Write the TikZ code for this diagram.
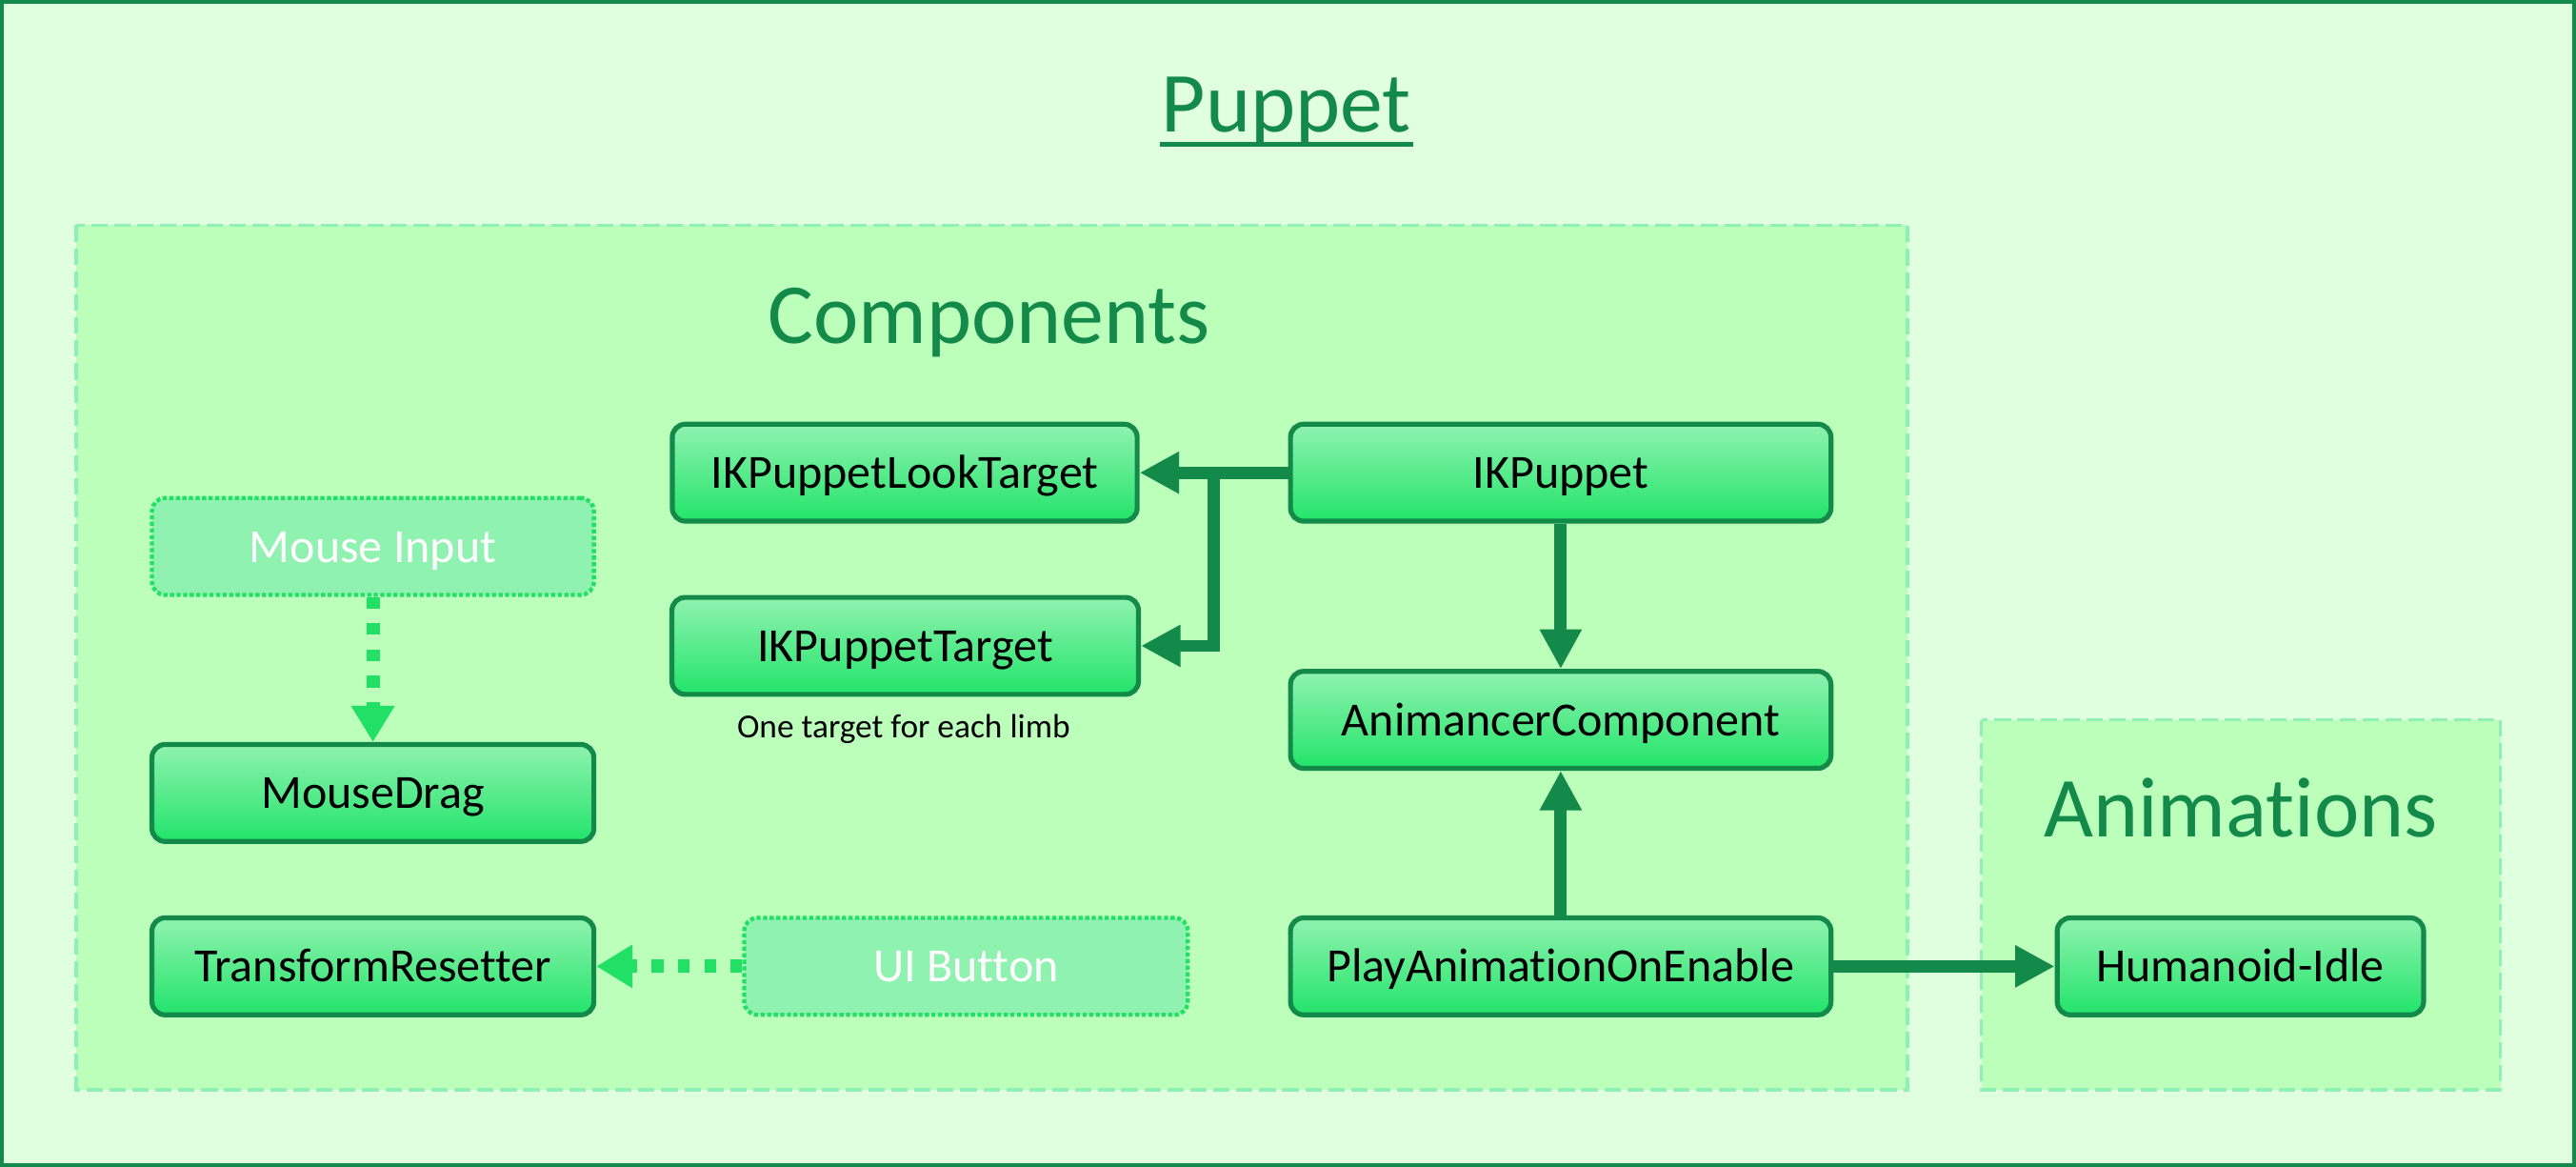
\documentclass[tikz,border=0pt]{standalone}
\usepackage{fontspec}
\setmainfont{Carlito}[Ligatures=NoCommon]
\usetikzlibrary{arrows.meta}
\definecolor{dkg}{HTML}{13894A}
\definecolor{outerbg}{HTML}{E0FFDE}
\definecolor{innerbg}{HTML}{BBFFBB}
\definecolor{dashc}{HTML}{8EF0B4}
\definecolor{nodetop}{HTML}{90F2B0}
\definecolor{nodebot}{HTML}{22E46A}
\definecolor{inputfill}{HTML}{90F2B0}
\definecolor{ltg}{HTML}{22E066}
\begin{document}
\begin{tikzpicture}[x=1pt,y=-1pt,
  comp/.style={draw=dkg, line width=3pt, rounded corners=8pt, top color=nodetop, bottom color=nodebot,
    inner sep=0pt, font=\fontsize{29}{34}\selectfont, text=black, minimum height=59pt,
    text height=19pt, text depth=0pt},
  inputbox/.style={draw=ltg, line width=2.5pt, dash pattern=on 2.5pt off 1.5pt, rounded corners=8pt,
    fill=inputfill, inner sep=0pt, font=\fontsize{29}{34}\selectfont, text=white, minimum height=59pt,
    text height=19pt, text depth=0pt},
  group/.style={draw=dashc, line width=2pt, dash pattern=on 10pt off 4pt, fill=innerbg},
  grouptitle/.style={font=\fontsize{52}{60}\selectfont, text=dkg, inner sep=0pt, anchor=base},
  arr/.style={draw=dkg, line width=7.5pt, -{Triangle[length=24pt,width=24pt]}},
  darr/.style={draw=ltg, line width=8pt, dash pattern=on 7pt off 9pt, -{Triangle[length=22pt,width=25pt]}}
]
\useasboundingbox (0,0) rectangle (1568,710);
\draw[fill=outerbg, draw=dkg, line width=2.5pt] (1.25,1.25) rectangle (1566.75,708.75);

% title
\node[grouptitle] (title) at (783,80) {Puppet};
\draw[dkg, line width=3pt] ([xshift=-1pt,yshift=-8pt]title.base west) -- ([xshift=1pt,yshift=-8pt]title.base east);

% groups
\draw[group] (46.5,137) rectangle (1161,663);
\draw[group] (1206,438) rectangle (1522,663);
\node[grouptitle] (comptitle) at (602,209) {Components};
\node[grouptitle] (animtitle) at (1364,509) {Animat\kern0pt ions};

% nodes
\node[comp, minimum width=283pt] (look) at (550.7,287.6) {IKPuppetLookTarget};
\node[comp, minimum width=329pt] (ikp) at (950,287.6) {IKPuppet};
\node[comp, minimum width=284pt] (tgt) at (551,393) {IKPuppetTarget};
\node[font=\fontsize{20.5}{24}\selectfont, anchor=base, inner sep=0pt] (tgtnote) at (550,449) {One target for each limb};
\node[comp, minimum width=329pt] (anim) at (950,438) {AnimancerComponent};
\node[comp, minimum width=329pt] (play) at (950,588) {PlayAnimat\kern0pt ionOnEnable};
\node[comp, minimum width=223pt] (idle) at (1363.7,588) {Humanoid-Idle};
\node[inputbox, minimum width=269pt] (mouse) at (227,332.5) {Mouse Input};
\node[comp, minimum width=269pt] (drag) at (227,482.5) {MouseDrag};
\node[comp, minimum width=269pt] (reset) at (227,588) {TransformResetter};
\node[inputbox, minimum width=270pt] (ui) at (588,588) {UI Button};

% connectors
\draw[arr] (ikp.west) -- (look.east);
\coordinate (br) at (739,287.6);
\draw[arr] (br) |- (tgt.east);
\draw[arr] (ikp.south) -- (anim.north);
\draw[arr] (play.north) -- (anim.south);
\draw[arr] (play.east) -- (idle.west);
\draw[darr] (mouse.south) -- (drag.north);
\draw[darr] (ui.west) -- (reset.east);
\end{tikzpicture}
\end{document}
